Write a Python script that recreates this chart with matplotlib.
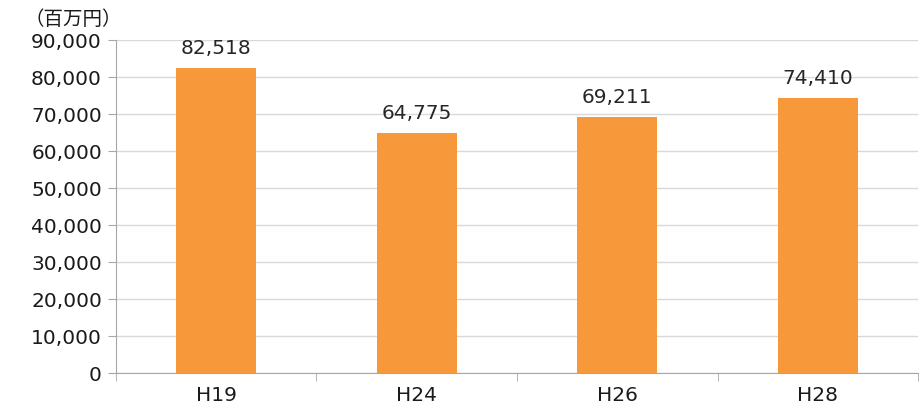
import matplotlib
matplotlib.use("Agg")
import matplotlib.pyplot as plt
from matplotlib.ticker import FuncFormatter, FixedLocator

categories = ["H19", "H24", "H26", "H28"]
values = [82518, 64775, 69211, 74410]
unit_label = "（百万円）"

fig = plt.figure(figsize=(9.19, 4.05), dpi=100)
ax = fig.add_axes([0.126, 0.079, 0.873, 0.822])

x = range(len(categories))
ax.bar(x, values, width=0.4, color="#F7983A", zorder=3)

for xi, v in zip(x, values):
    ax.text(xi, v + 2700, f"{v:,}", ha="center", va="bottom",
            fontsize=14.5, color="#262626", family="DejaVu Sans")

ax.set_xlim(-0.5, len(categories) - 0.5)
ax.set_ylim(0, 90000)
ax.set_yticks(range(0, 90001, 10000))
ax.yaxis.set_major_formatter(FuncFormatter(lambda v, p: f"{int(v):,}"))
ax.set_xticks(list(x))
ax.set_xticklabels(categories)
ax.xaxis.set_minor_locator(FixedLocator([i - 0.5 for i in range(len(categories) + 1)]))

ax.grid(axis="y", color="#D9D9D9", linewidth=1, zorder=0)
for s in ["top", "right"]:
    ax.spines[s].set_visible(False)
ax.spines["left"].set_color("#A6A6A6")
ax.spines["bottom"].set_color("#A6A6A6")

ax.tick_params(axis="y", length=6, color="#A6A6A6", labelsize=14.5, labelcolor="#1a1a1a", pad=4)
ax.tick_params(axis="x", which="major", length=0, labelsize=14.5, labelcolor="#1a1a1a", pad=9)
ax.tick_params(axis="x", which="minor", length=6, color="#A6A6A6")

fig.text(0.027, 0.925, unit_label, fontsize=14, family=["Noto Sans CJK JP", "DejaVu Sans"],
         color="#1a1a1a", ha="left", va="bottom")

fig.savefig("out.png", dpi=100)
